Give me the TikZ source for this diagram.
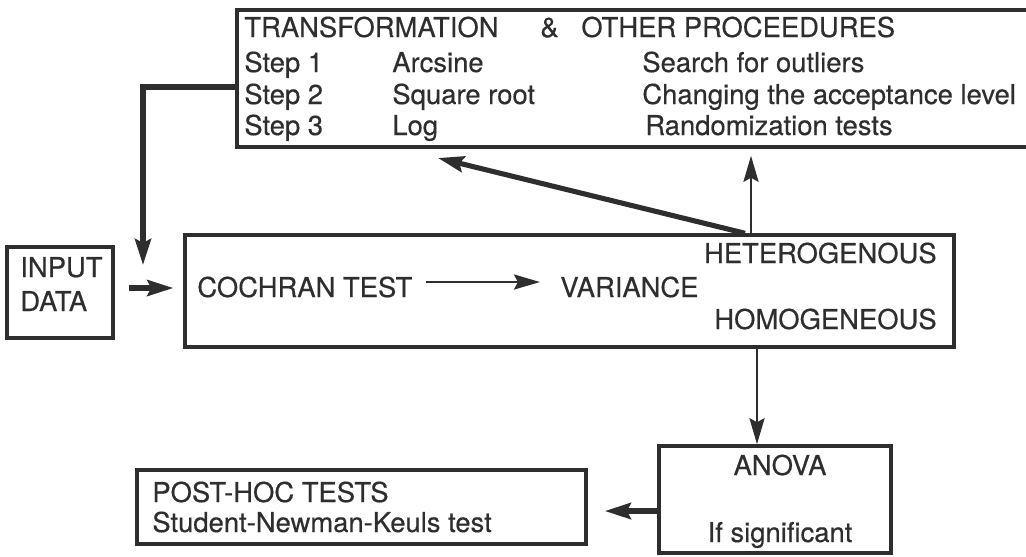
\documentclass[tikz,border=0pt]{standalone}
\usepackage{fontspec}
\setmainfont{TeX Gyre Heros}
\newfontfamily\chartfont{TeX Gyre Heros}[FakeBold=0.4]
\usetikzlibrary{arrows.meta}
\definecolor{ink}{HTML}{2E2E2E}

\begin{document}
\begin{tikzpicture}[x=0.02cm,y=-0.02cm,
  box/.style={draw=ink,line width=2pt,inner sep=0pt},
  lbl/.style={anchor=base west,inner sep=0pt,text=ink,font=\chartfont\fontsize{15.6pt}{18pt}\selectfont},
  heavy/.style={draw=ink,line width=2.9pt,-{Stealth[length=0.52cm,width=0.32cm,inset=0.08cm]}},
  light/.style={draw=ink,line width=1.6pt,-{Stealth[length=0.52cm,width=0.3cm,inset=0.08cm]}},
]
\useasboundingbox (0,0) rectangle (1026,556);

% boxes
\node[box,minimum width=15.9cm,minimum height=2.74cm] (topbox) at (634.5,78.5) {};
\node[box,minimum width=2.12cm,minimum height=1.82cm] (input) at (60,292.5) {};
\node[box,minimum width=15.38cm,minimum height=2.24cm] (main) at (569.5,291) {};
\node[box,minimum width=4.64cm,minimum height=2.14cm] (anova) at (775,499.5) {};
\node[box,minimum width=8.98cm,minimum height=1.48cm] (posthoc) at (361.5,507) {};

% transformation box
\node[lbl] (ttl1) at (244,37) {TRANSFORMATION};
\node[lbl] (ttl2) at (540,37) {\&};
\node[lbl] (ttl3) at (581,37) {OTHER PROCEEDURES};
\node[lbl] (s1) at (244,72) {Step 1};
\node[lbl] (t1) at (392,72) {Arcsine};
\node[lbl] (o1) at (642,72) {Search for outliers};
\node[lbl] (s2) at (244,104) {Step 2};
\node[lbl] (t2) at (392,104) {Square root};
\node[lbl] (o2) at (642,104) {Changing the acceptance level};
\node[lbl] (s3) at (244,135) {Step 3};
\node[lbl] (t3) at (392,135) {Log};
\node[lbl] (o3) at (645,135) {Randomization tests};

% input
\node[lbl] (in1) at (20,277) {INPUT};
\node[lbl] (in2) at (20,311) {DATA};

% cochran box
\node[lbl] (cochran) at (197,297) {COCHRAN TEST};
\node[lbl] (variance) at (560,297) {VARIANCE};
\node[lbl,anchor=base east] (hetero) at (937,263) {HETEROGENOUS};
\node[lbl,anchor=base east] (homo) at (937,329) {HOMOGENEOUS};

% anova and post-hoc
\node[lbl,anchor=base] (anovat) at (780,475) {ANOVA};
\node[lbl,anchor=base] (signif) at (780,542) {If significant};
\node[lbl] (ph1) at (152,502) {POST-HOC TESTS};
\node[lbl] (ph2) at (152,532) {Student-Newman-Keuls test};

% connectors
\coordinate (feedrow) at (0,87);
\coordinate (feed) at (143,265);
\draw[heavy] (topbox.west |- feedrow) -| (feed);

\coordinate (inrow) at (0,288);
\draw[heavy,shorten <=0.28cm,shorten >=0.2cm] (input.east |- inrow) -- (main.west |- inrow);

\draw[light,shorten <=0.26cm,shorten >=0.4cm] ([yshift=0.1cm]cochran.east) -- ([yshift=0.1cm]variance.west);

\coordinate (upx) at (751,0);
\draw[light,shorten >=0.14cm] (main.north -| upx) -- (topbox.south -| upx);

\coordinate (diagfrom) at (745,0);
\coordinate (diagto) at (438,158);
\draw[heavy] (main.north -| diagfrom) -- (diagto);

\coordinate (dnx) at (757,0);
\draw[light] (main.south -| dnx) -- (anova.north -| dnx);

\coordinate (phrow) at (0,511);
\draw[heavy,line width=3.4pt,shorten >=0.34cm] (anova.west |- phrow) -- (posthoc.east |- phrow);
\end{tikzpicture}
\end{document}
